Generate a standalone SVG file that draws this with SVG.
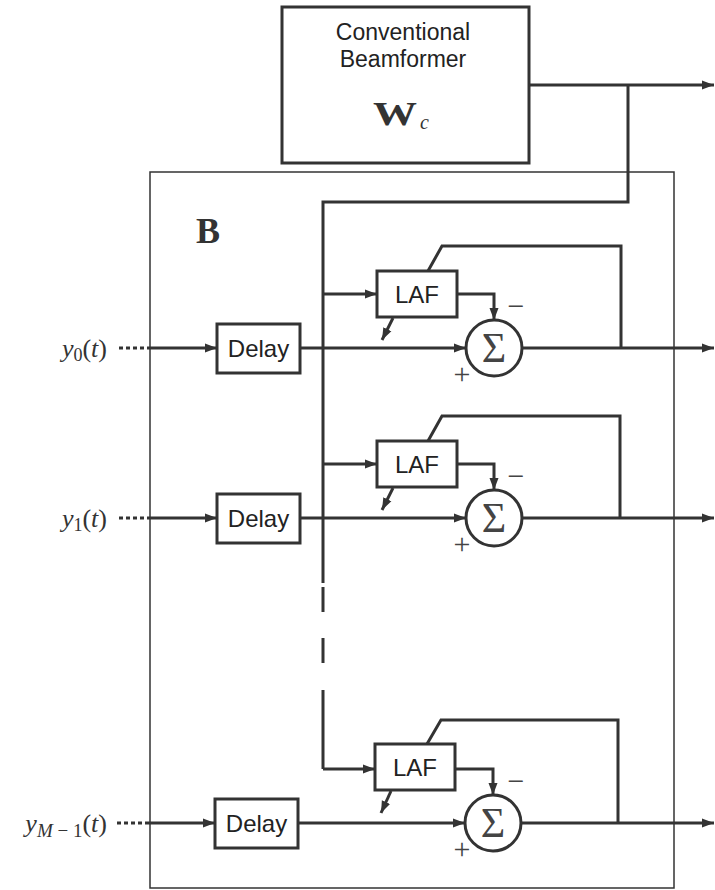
<svg xmlns="http://www.w3.org/2000/svg" width="715" height="890" viewBox="0 0 715 890">
<defs>
<marker id="ah" viewBox="0 0 12 10" refX="12" refY="5" markerWidth="12" markerHeight="10" markerUnits="userSpaceOnUse" orient="auto"><path d="M0,0.5 L12,5 L0,9.5 z" fill="#333"/></marker>
<style>
.box{fill:#fff;stroke:#333;stroke-width:3}
.thin{fill:none;stroke:#333;stroke-width:1.5}
.c{fill:none;stroke:#333;stroke-width:3}
.a{fill:none;stroke:#333;stroke-width:3;marker-end:url(#ah)}
.dot{fill:none;stroke:#333;stroke-width:3;stroke-dasharray:4 3}
.sans{font-family:"Liberation Sans",Arial,sans-serif;fill:#222;text-anchor:middle}
.serif{font-family:"Liberation Serif","Times New Roman",serif;fill:#333}
.sig{font-family:"Liberation Serif","DejaVu Serif",serif;fill:#444;font-size:42px;text-anchor:middle}
.pm{font-family:"Liberation Serif","Times New Roman",serif;fill:#444;font-size:30px;text-anchor:middle}
</style>
</defs>
<rect width="715" height="890" fill="#fff"/>

<g id="B">
<rect class="thin" x="150" y="172" width="524" height="716"/>
<text class="serif" x="196" y="243" font-size="36" font-weight="bold">B</text>
</g>

<g id="beamformer">
<rect class="box" x="282" y="7" width="247" height="156"/>
<text class="sans" x="403" y="40" font-size="23">Conventional</text>
<text class="sans" x="403" y="67" font-size="23">Beamformer</text>
<text class="serif" x="373" y="125" font-size="34" font-weight="bold" textLength="44" lengthAdjust="spacingAndGlyphs">W</text>
<text class="serif" x="420" y="129" font-size="20" font-style="italic">c</text>
</g>

<g id="labels">
<text class="serif" x="107" y="357" font-size="26" text-anchor="end"><tspan font-style="italic">y</tspan><tspan font-size="18" dy="4">0</tspan><tspan dy="-4">(</tspan><tspan font-style="italic">t</tspan>)</text>
<text class="serif" x="107" y="527" font-size="26" text-anchor="end"><tspan font-style="italic">y</tspan><tspan font-size="18" dy="4">1</tspan><tspan dy="-4">(</tspan><tspan font-style="italic">t</tspan>)</text>
<text class="serif" x="107" y="832" font-size="26" text-anchor="end"><tspan font-style="italic">y</tspan><tspan font-size="19" dy="5"><tspan font-style="italic">M</tspan> − 1</tspan><tspan dy="-5">(</tspan><tspan font-style="italic">t</tspan>)</text>
<text class="pm" x="516" y="316">−</text>
<text class="pm" x="462" y="384">+</text>
<text class="pm" x="516" y="486">−</text>
<text class="pm" x="462" y="554">+</text>
<text class="pm" x="516" y="791">−</text>
<text class="pm" x="462" y="859">+</text>
</g>

<g id="delay0"><rect class="box" x="217" y="324" width="83" height="49"/><text class="sans" x="258.5" y="357" font-size="24">Delay</text></g>
<g id="laf0"><rect class="box" x="377" y="271" width="80" height="46"/><text class="sans" x="417" y="303" font-size="24">LAF</text></g>
<g id="sum0"><circle class="box" cx="494" cy="348" r="28"/><text class="sig" x="494" y="362">Σ</text></g>

<g id="delay1"><rect class="box" x="217" y="494" width="83" height="49"/><text class="sans" x="258.5" y="527" font-size="24">Delay</text></g>
<g id="laf1"><rect class="box" x="377" y="441" width="80" height="46"/><text class="sans" x="417" y="473" font-size="24">LAF</text></g>
<g id="sum1"><circle class="box" cx="494" cy="518" r="28"/><text class="sig" x="494" y="532">Σ</text></g>

<g id="delay2"><rect class="box" x="215" y="799" width="83" height="49"/><text class="sans" x="256.5" y="832" font-size="24">Delay</text></g>
<g id="laf2"><rect class="box" x="375" y="744" width="80" height="46"/><text class="sans" x="415" y="776" font-size="24">LAF</text></g>
<g id="sum2"><circle class="box" cx="493" cy="823" r="28"/><text class="sig" x="493" y="837">Σ</text></g>

<g id="connectors">
<path class="a" d="M529,85 H714"/>
<path class="c" d="M628,85 V202 H323 V583"/>
<path class="c" d="M323,587 V612 M323,638 V663 M323,690 V769"/>
<path class="a" d="M323,769 H375"/>

<path class="dot" d="M119,348 H148"/>
<path class="a" d="M148,348 H217"/>
<path class="a" d="M300,348 H466"/>
<path class="a" d="M323,294 H377"/>
<path class="a" d="M457,294 H494 V320"/>
<path class="a" d="M393,318 L382,340"/>
<path class="c" d="M428,271 L442,246 H621 V348"/>
<path class="a" d="M522,348 H714"/>

<path class="dot" d="M119,518 H148"/>
<path class="a" d="M148,518 H217"/>
<path class="a" d="M300,518 H466"/>
<path class="a" d="M323,464 H377"/>
<path class="a" d="M457,464 H494 V490"/>
<path class="a" d="M393,488 L382,510"/>
<path class="c" d="M428,441 L442,416 H620 V518"/>
<path class="a" d="M522,518 H714"/>

<path class="dot" d="M117,823 H148"/>
<path class="a" d="M148,823 H215"/>
<path class="a" d="M298,823 H465"/>
<path class="a" d="M455,769 H493 V795"/>
<path class="a" d="M391,791 L381,813"/>
<path class="c" d="M427,744 L441,720 H618 V823"/>
<path class="a" d="M521,823 H714"/>
</g>
</svg>
